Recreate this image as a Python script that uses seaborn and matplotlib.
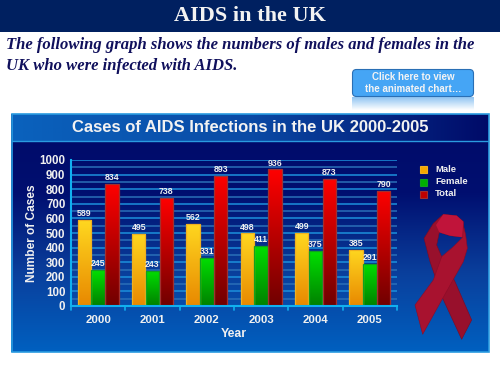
import numpy as np
import pandas as pd
import matplotlib
matplotlib.use("Agg")
import matplotlib.pyplot as plt
from matplotlib.colors import LinearSegmentedColormap
from matplotlib.patches import Polygon, Rectangle, FancyBboxPatch
import seaborn as sns

years = ["2000", "2001", "2002", "2003", "2004", "2005"]
male = [589, 495, 562, 498, 499, 385]
female = [245, 243, 331, 411, 375, 291]
total = [834, 738, 893, 936, 873, 790]
series_names = ["Male", "Female", "Total"]
yticks = [0, 100, 200, 300, 400, 500, 600, 700, 800, 900, 1000]

W, H = 500, 375
df = pd.DataFrame({"Year": years * 3,
                   "Series": ["Male"] * 6 + ["Female"] * 6 + ["Total"] * 6,
                   "Cases": male + female + total})

sns.set_theme(style="white")
plt.rcParams['font.family'] = ['Liberation Sans', 'DejaVu Sans']
serif = 'Liberation Serif'

fig = plt.figure(figsize=(5, 3.75), dpi=100, facecolor="white")

# page layer in pixel coordinates
bg = fig.add_axes([0, 0, 1, 1])
bg.set_xlim(0, W)
bg.set_ylim(H, 0)
bg.axis("off")


def gradient(ax, box, colors, horizontal=False, clip=None, z=1):
    cmap = LinearSegmentedColormap.from_list("g", colors)
    arr = np.linspace(0, 1, 256)
    arr = arr.reshape(1, -1) if horizontal else arr.reshape(-1, 1)
    im = ax.imshow(arr, cmap=cmap, extent=box, aspect="auto", zorder=z, vmin=0, vmax=1)
    if clip is not None:
        im.set_clip_path(clip)
    return im


def ribbon(points):
    return [(400 + x / 3, 205 + y / 3) for x, y in points]


bg.add_patch(Rectangle((0, 0), W, 31.5, color="#002060", lw=0))
bg.text(250, 16, "AIDS in the UK", color="#f2f2f2", fontsize=16, family=serif,
        weight="bold", ha="center", va="center", zorder=5)
bg.text(6, 45, "The following graph shows the numbers of males and females in the",
        color="#10105c", fontsize=12, family=serif, weight="bold", style="italic",
        va="center", zorder=5)
bg.text(6, 66, "UK who were infected with AIDS.",
        color="#10105c", fontsize=12, family=serif, weight="bold", style="italic",
        va="center", zorder=5)

# button with its reflection
gradient(bg, (352, 474, 110, 97), ["#8fc4f2", "#ffffff"], z=1)
btn = FancyBboxPatch((352.5, 69.5), 121, 27, boxstyle="round,pad=0,rounding_size=4",
                     fc="#45a5f5", ec="#2a6fb5", lw=0.8, zorder=2)
bg.add_patch(btn)
bg.text(413, 77, "Click here to view", color="#f4f4f4", fontsize=7, weight="bold",
        ha="center", va="center", zorder=5)
bg.text(413, 89, "the animated chart\u2026", color="#f4f4f4", fontsize=7, weight="bold",
        ha="center", va="center", zorder=5)

# main panel
gradient(bg, (11, 489, 352, 114), ["#000a68", "#000f70", "#0a3f9c", "#0060c0"], z=1)
gradient(bg, (12, 489, 141, 114), ["#0a62bd", "#0a4aa5", "#000a68"], horizontal=True, z=2)
bg.add_patch(Rectangle((11.5, 114), 477, 238, fill=False, ec="#2a9be0", lw=1.2, zorder=3))
bg.plot([12, 488], [141, 141], color="#2a9be0", lw=1, zorder=3)
bg.text(250, 128, "Cases of AIDS Infections in the UK 2000-2005", color="#f2f2f2",
        fontsize=12, weight="bold", ha="center", va="center", zorder=5)
bg.set_xlim(0, W)
bg.set_ylim(H, 0)

# chart
ax = fig.add_axes([71 / W, 1 - 306 / H, (397 - 71) / W, (306 - 160) / H])
ax.patch.set_alpha(0)
palette = {"Male": "#f5a800", "Female": "#00b000", "Total": "#c00000"}
sns.barplot(data=df, x="Year", y="Cases", hue="Series", order=years, hue_order=series_names,
            palette=palette, width=0.76, gap=0.03, legend=False, ax=ax, zorder=3)
ax.set_ylim(0, 1000)
ax.set_xlim(-0.5, 5.5)

for v in range(50, 1001, 50):
    ax.axhline(v, color="#1c90dc" if v % 100 == 0 else "#2a6fb8", lw=1.1, zorder=1)

fills = {"Male": ["#ffd820", "#e88800"], "Female": ["#00e000", "#008000"], "Total": ["#ff0000", "#700000"]}
edges = {"Male": "#f0b020", "Female": "#10a020", "Total": "#a03030"}
for container, name in zip(ax.containers, series_names):
    for bar, v in zip(container, df[df.Series == name].Cases):
        x0, w = bar.get_x(), bar.get_width()
        bar.set_edgecolor(edges[name])
        bar.set_linewidth(0.9)
        bar.set_zorder(4)
        gradient(ax, (x0, x0 + w, 0, v), fills[name], clip=bar, z=3.5)
        bar.set_facecolor("none")
        ax.text(x0 + w / 2, v + 12, str(v), color="#f0f0f0", fontsize=6.3, weight="bold",
                ha="center", va="bottom", zorder=6)
ax.set_xlim(-0.5, 5.5)
ax.set_ylim(0, 1000)
ax.set_aspect("auto")

sns.despine(ax=ax, top=True, right=True)
for side in ["left", "bottom"]:
    ax.spines[side].set_color("#10b0f0")
    ax.spines[side].set_linewidth(1.5)
    ax.spines[side].set_zorder(7)
ax.set_yticks(yticks)
ax.set_xticks(np.arange(6))
ax.set_xticklabels(years)
ax.tick_params(axis="y", colors="#f0f0f0", labelsize=8.3, length=3, width=1.2, color="#10b0f0", pad=1)
ax.tick_params(axis="x", colors="#f0f0f0", labelsize=8.2, length=0, pad=6.5)
for lab in ax.get_xticklabels() + ax.get_yticklabels():
    lab.set_fontweight("bold")
for b in np.arange(-0.5, 5.6, 1):
    ax.plot([b, b], [0, -25], color="#10b0f0", lw=1.2, clip_on=False, zorder=7)
ax.set_xlabel("Year", color="#f0f0f0", fontsize=8.8, weight="bold", labelpad=2)
ax.set_ylabel("Number of Cases", color="#f0f0f0", fontsize=8.6, weight="bold", labelpad=1)

# legend
for y, name in zip([169, 182, 194], series_names):
    bg.add_patch(Rectangle((419.5, y - 3.5), 7, 7, fc=palette[name], ec=edges[name], lw=0.8, zorder=5))
    bg.text(435, y, name, color="#f0f0f0", fontsize=6.8, weight="bold", va="center", zorder=5)

# ribbon
back = [(130, 28), (170, 32), (190, 50), (190, 97), (150, 92), (118, 82), (110, 120), (125, 155),
        (165, 230), (215, 345), (185, 403), (128, 280), (90, 170), (72, 100), (100, 55)]
front = [(190, 60), (197, 90), (202, 130), (190, 170), (128, 280), (68, 388), (45, 300),
         (100, 225), (125, 155), (160, 125), (188, 97)]
top = [(130, 28), (170, 32), (190, 50), (190, 97), (150, 92), (118, 82), (108, 60)]
bg.add_patch(Polygon(ribbon(back), closed=True, fc="#98102c", ec="#7a0a24", lw=0.4, zorder=4))
bg.add_patch(Polygon(ribbon(top), closed=True, fc="#c0143a", lw=0, zorder=4.5))
bg.add_patch(Polygon(ribbon(front), closed=True, fc="#a8122f", ec="#8a0c28", lw=0.4, zorder=5))

fig.savefig("out.png", dpi=100, facecolor="white")
